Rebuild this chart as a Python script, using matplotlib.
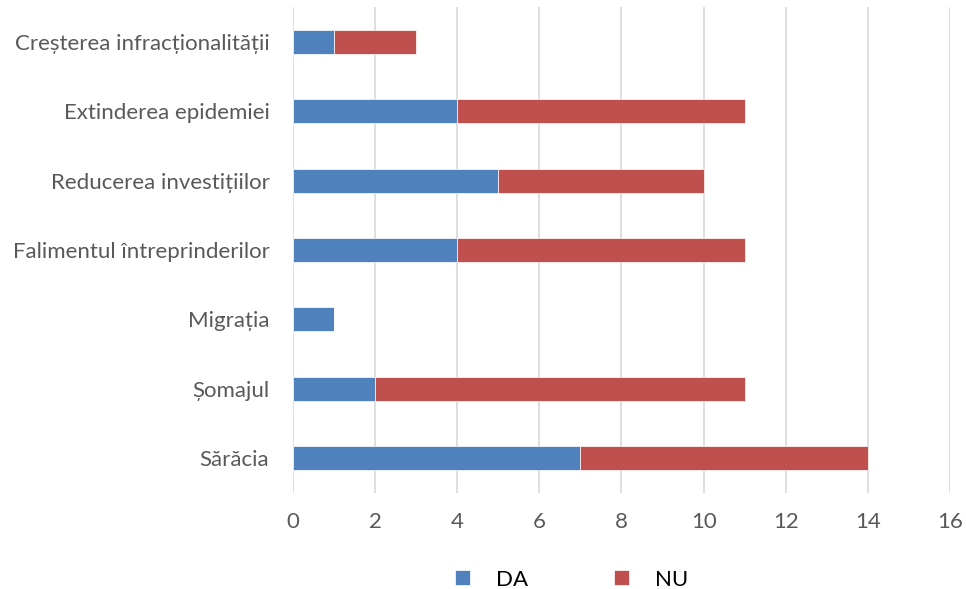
import numpy as np
import matplotlib.pyplot as plt

categories = ["Sărăcia", "Șomajul", "Migrația", "Falimentul întreprinderilor",
              "Reducerea investițiilor", "Extinderea epidemiei",
              "Creșterea infracționalității"]
da = [7, 2, 1, 4, 5, 4, 1]
nu = [7, 9, 0, 7, 5, 7, 2]

plt.rcParams['font.family'] = ['Lato', 'DejaVu Sans']

fig = plt.figure(figsize=(9.66, 5.89), dpi=100)
ax = fig.add_axes([0.3033, 0.1635, 0.6801, 0.8241])

y = np.arange(len(categories))
ax.barh(y, da, height=0.35, color='#4F81BD', edgecolor='white', linewidth=0.5, label='DA', zorder=3)
ax.barh(y, nu, left=da, height=0.35, color='#C0504D', edgecolor='white', linewidth=0.5, label='NU', zorder=3)

ax.set_xlim(0, 16)
ax.set_ylim(-0.5, len(categories) - 0.5)
ax.set_xticks(np.arange(0, 17, 2))
ax.set_yticks(y)
ax.set_yticklabels(categories)
ax.tick_params(axis='both', length=0, labelsize=16, colors='#595959')
ax.tick_params(axis='x', pad=14)
ax.tick_params(axis='y', pad=17)
ax.xaxis.grid(True, color='#D9D9D9', linewidth=1.2, zorder=0)
for s in ax.spines.values():
    s.set_visible(False)

leg = fig.legend(loc='lower center', bbox_to_anchor=(0.592, -0.035), ncol=2, frameon=False,
                 fontsize=16, handlelength=0.65, handleheight=0.65, columnspacing=3.85,
                 handletextpad=1.2)
for t in leg.get_texts():
    t.set_color('black')

fig.savefig('out.png', dpi=100)
